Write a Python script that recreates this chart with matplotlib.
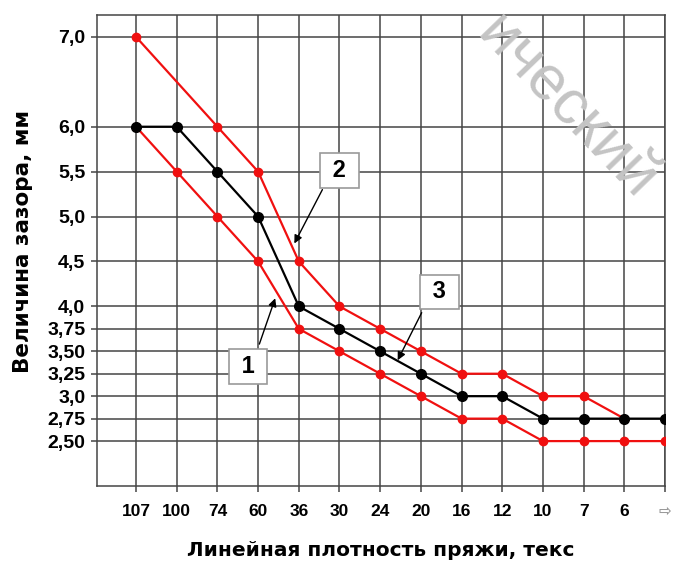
import matplotlib
matplotlib.use("Agg")
import matplotlib.pyplot as plt
import numpy as np

# Linear density of yarn, tex (categorical axis, last slot is an arrow)
tex_labels = ["107", "100", "74", "60", "36", "30", "24", "20", "16", "12", "10", "7", "6", "\u21e8"]

# Curve 3 (middle, black)
curve3_idx = list(range(14))
curve3 = [6.0, 6.0, 5.5, 5.0, 4.0, 3.75, 3.5, 3.25, 3.0, 3.0, 2.75, 2.75, 2.75, 2.75]

# Curve 2 (upper, red)
curve2_idx = [0, 2, 3, 4, 5, 6, 7, 8, 9, 10, 11, 12]
curve2 = [7.0, 6.0, 5.5, 4.5, 4.0, 3.75, 3.5, 3.25, 3.25, 3.0, 3.0, 2.75]

# Curve 1 (lower, red)
curve1_idx = list(range(14))
curve1 = [6.0, 5.5, 5.0, 4.5, 3.75, 3.5, 3.25, 3.0, 2.75, 2.75, 2.5, 2.5, 2.5, 2.5]

ytick_vals = [7.0, 6.0, 5.5, 5.0, 4.5, 4.0, 3.75, 3.5, 3.25, 3.0, 2.75, 2.5]
ytick_labels = ["7,0", "6,0", "5,5", "5,0", "4,5", "4,0", "3,75", "3,50", "3,25", "3,0", "2,75", "2,50"]

regular = ["Liberation Sans", "DejaVu Sans"]
wide = ["DejaVu Sans"]

fig = plt.figure(figsize=(6.77, 5.63), dpi=100)
ax = fig.add_axes([97 / 677, 1 - 486 / 563, (665 - 97) / 677, (486 - 15) / 563])

grid_col = "#454545"
ax.set_xlim(-0.96, 13.0)
ax.set_ylim(2.0, 7.244)

ax.set_xticks(range(len(tex_labels)))
ax.set_xticklabels(tex_labels)
ax.set_yticks(ytick_vals)
ax.set_yticklabels(ytick_labels)
ax.grid(True, color=grid_col, linewidth=1.1)
ax.set_axisbelow(True)
for s in ax.spines.values():
    s.set_color(grid_col)
    s.set_linewidth(1.1)

ax.tick_params(axis="x", length=4, width=1.1, color=grid_col, pad=9)
ax.tick_params(axis="y", length=4.5, width=1.1, color=grid_col, pad=4)
for t in ax.get_xticklabels():
    t.set_fontfamily(regular)
    t.set_fontweight("bold")
    t.set_fontsize(12.5)
xt = ax.get_xticklabels()
xt[-1].set_color("#9a9a9a")
xt[-1].set_fontfamily(["DejaVu Sans"])
xt[-1].set_fontsize(11)
for t in ax.get_yticklabels():
    t.set_fontfamily(regular)
    t.set_fontweight("bold")
    t.set_fontsize(14)

red = "#f01010"
ax.plot(curve2_idx, curve2, color=red, lw=1.6, marker="o", ms=6, zorder=3)
ax.plot(curve1_idx, curve1, color=red, lw=1.6, marker="o", ms=6, zorder=3)
ax.plot(curve3_idx, curve3, color="black", lw=1.6, marker="o", ms=7, zorder=4)

ax.set_ylabel("Величина зазора, мм", fontsize=15.5, fontweight="bold", family=wide)
ax.yaxis.set_label_coords(-0.113, 0.52)
ax.set_xlabel("Линейная плотность пряжи, текс", fontsize=14.5, fontweight="bold",
              family=wide, labelpad=16)

# Curve number call-outs
box = dict(boxstyle="square,pad=0.25", fc="white", ec="#9a9a9a", lw=1.2)
callouts = [
    ("1", (2.76, 3.33), (3.03, 3.58), (3.42, 4.09)),
    ("2", (5.0, 5.51), (4.58, 5.30), (3.89, 4.70)),
    ("3", (7.46, 4.16), (7.02, 3.93), (6.43, 3.40)),
]
for num, (bx, by), start, end in callouts:
    ax.annotate("", xy=end, xytext=start,
                arrowprops=dict(arrowstyle="-|>", color="black", lw=1.0,
                                mutation_scale=12, shrinkA=0, shrinkB=0),
                zorder=6)
    ax.text(bx, by, " " + num + " ", fontsize=17, fontweight="bold", family=regular,
            ha="center", va="center", bbox=box, zorder=7)

# Repository watermark
fig.text(487 / 677, 1 - 24 / 563, "ический", fontsize=45,
         family=regular, color="#c4c4c4", rotation=-46, rotation_mode="anchor",
         ha="left", va="center", zorder=10)

fig.savefig("out.png", dpi=100)
